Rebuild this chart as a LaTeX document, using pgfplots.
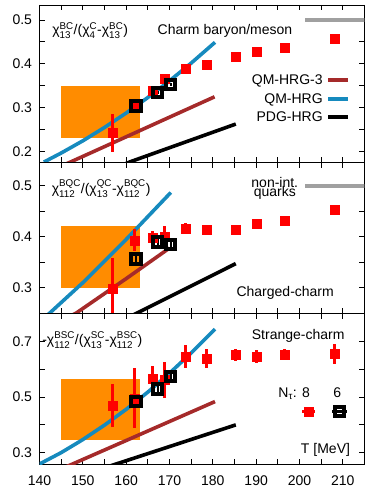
\documentclass[border=0pt]{standalone}
\usepackage{pgfplots}
\pgfplotsset{compat=1.18}
\usepackage{amsmath}
\usepackage{fontspec}
\setmainfont{Liberation Sans}
\definecolor{qmblue}{RGB}{22,138,190}
\definecolor{qmbrown}{RGB}{165,42,42}
\definecolor{band}{RGB}{255,140,0}
\definecolor{ngray}{RGB}{160,160,160}
\newcommand{\cx}[2]{χ$^{\text{#1}}_{\text{#2}}$}

\pgfplotsset{
  panel/.style={
    scale only axis, width=325pt,
    xmin=140, xmax=215,
    xtick={140,150,...,210}, minor xtick={145,155,...,215},
    major tick length=5.5pt, minor tick length=5.5pt,
    tick style={black, line width=0.8pt},
    axis line style={line width=0.8pt},
    /pgf/number format/assume math mode=true,
    yticklabel style={xshift=-4pt},
    xticklabel style={yshift=-7.5pt},
  },
  red8/.style={only marks, mark=square*, mark size=4.5pt, color=red,
    mark options={fill=red, draw=red, line width=0.2pt},
    error bars/.cd, y dir=both, y explicit,
    error bar style={line width=3pt, red}, error mark=none},
  blk6/.style={only marks, mark=square, mark size=4.65pt, color=black,
    mark options={draw=black, line width=4pt},
    error bars/.cd, y dir=both, y explicit,
    error bar style={line width=2pt, black}, error mark=none},
  theory/.style={no marks, line width=3.6pt},
}

\begin{document}
\begin{tikzpicture}[font=\fontsize{14}{16}\selectfont]
\useasboundingbox (0,0) rectangle (365pt,488pt);

% ---------------- Panel 1 ----------------
\begin{axis}[panel, at={(39.5pt,325.3pt)}, anchor=south west, height=157.7pt,
  ymin=0.175, ymax=0.534,
  ytick={0.2,0.3,0.4,0.5}, yticklabels={0.2,0.3,0.4,0.5},
  minor ytick={0.25,0.35,0.45}, xticklabels={}]
\addplot[fill=band, draw=none] coordinates {(145,0.2305) (163.3,0.2305) (163.3,0.35) (145,0.35)} -- cycle;
\addplot[theory, ngray] coordinates {(201.3,0.5) (216,0.5)};
\addplot[theory, qmbrown] coordinates {(145.0,0.167) (146.8,0.175) (160,0.2339) (170,0.2786) (180.4,0.325)};
\addplot[theory, qmblue] coordinates {(141,0.1764) (145,0.197) (150,0.2248) (155,0.2552) (160,0.288) (165,0.3234) (170,0.3613) (175,0.4017) (180.5,0.449)};
\addplot[theory, black] coordinates {(159.5,0.171) (160.9,0.177) (185.3,0.263)};
% legend samples
\addplot[theory, qmbrown] coordinates {(206.6,0.3633) (211.2,0.3633)};
\addplot[theory, qmblue] coordinates {(206.6,0.320) (211.2,0.320)};
\addplot[theory, black] coordinates {(206.6,0.2784) (211.2,0.2784)};
\node[anchor=base east, inner sep=0pt] at (axis cs:205.4,0.3535) {QM-HRG-3};
\node[anchor=base east, inner sep=0pt] at (axis cs:205.4,0.3103) {QM-HRG};
\node[anchor=base east, inner sep=0pt] at (axis cs:205.4,0.2683) {PDG-HRG};
\addplot[red8] coordinates {
 (156.9,0.243) +- (0,0.044)
 (162.0,0.308) +- (0,0.008)
 (166.1,0.340) +- (0,0.006)
 (168.9,0.367) +- (0,0.006)
 (173.8,0.390) +- (0,0.005)
 (178.6,0.3975) +- (0,0.004)
 (185.3,0.4165) +- (0,0.004)
 (190.1,0.428) +- (0,0.004)
 (196.5,0.437) +- (0,0.004)
 (208.0,0.458) +- (0,0.004)
};
\addplot[blk6] coordinates {
 (162.3,0.304) +- (0,0.004)
 (167.3,0.335) +- (0,0.004)
 (170.3,0.3535) +- (0,0.004)
};
\node[anchor=base west, inner sep=0pt] at (axis cs:142.9,0.4658) {\cx{BC}{13}/(\cx{C}{4}-\cx{BC}{13})};
\node[anchor=base, inner sep=0pt] at (axis cs:182.8,0.4674) {Charm baryon/meson};
\end{axis}

% ---------------- Panel 2 ----------------
\begin{axis}[panel, at={(39.5pt,174.7pt)}, anchor=south west, height=150.6pt,
  ymin=0.25, ymax=0.5455,
  ytick={0.3,0.4,0.5}, yticklabels={0.3,0.4,0.5},
  minor ytick={0.35,0.45}, xticklabels={}]
\addplot[fill=band, draw=none] coordinates {(145,0.3) (163.3,0.3) (163.3,0.421) (145,0.421)} -- cycle;
\addplot[theory, ngray] coordinates {(201.3,0.5) (216,0.5)};
\addplot[theory, qmbrown] coordinates {(146.5,0.242) (148.4,0.25) (160,0.318) (170,0.378)};
\addplot[theory, qmblue] coordinates {(141,0.24) (142.3,0.25) (150,0.31) (160,0.395) (170.3,0.487)};
\addplot[theory, black] coordinates {(160.5,0.242) (162.4,0.25) (185.3,0.3475)};
\addplot[red8] coordinates {
 (156.9,0.298) +- (0,0.06)
 (162.0,0.3936) +- (0,0.022)
 (166.1,0.399) +- (0,0.013)
 (168.9,0.400) +- (0,0.022)
 (173.8,0.4164) +- (0,0.011)
 (178.6,0.4145) +- (0,0.005)
 (185.3,0.415) +- (0,0.005)
 (190.1,0.426) +- (0,0.005)
 (196.5,0.4325) +- (0,0.005)
 (208.0,0.4535) +- (0,0.005)
};
\addplot[blk6] coordinates {
 (162.3,0.3566) +- (0,0.008)
 (167.3,0.390) +- (0,0.008)
 (170.3,0.385) +- (0,0.008)
};
\node[anchor=base west, inner sep=0pt] at (axis cs:142.8,0.4855) {\cx{BQC}{112}/(\cx{QC}{13}-\cx{BQC}{112})};
\node[anchor=base, inner sep=0pt] at (axis cs:194.3,0.497) {non-int.};
\node[anchor=base, inner sep=0pt] at (axis cs:194.3,0.479) {quarks};
\node[anchor=base, inner sep=0pt] at (axis cs:196.7,0.2836) {Charged-charm};
\end{axis}

% ---------------- Panel 3 ----------------
\begin{axis}[panel, at={(39.5pt,23.7pt)}, anchor=south west, height=151pt,
  ymin=0.258, ymax=0.802,
  ytick={0.3,0.5,0.7}, yticklabels={0.3,0.5,0.7},
  minor ytick={0.4,0.6}]
\addplot[fill=band, draw=none] coordinates {(145,0.344) (163.3,0.344) (163.3,0.566) (145,0.566)} -- cycle;
\addplot[theory, qmbrown] coordinates {(145,0.241) (146.6,0.252) (180.5,0.484)};
\addplot[theory, qmblue] coordinates {(139,0.251) (140,0.259) (145,0.300) (150,0.347) (155,0.399) (160,0.456) (165,0.518) (170,0.586) (175,0.659) (180.5,0.745)};
\addplot[theory, black] coordinates {(154,0.240) (156.3,0.252) (185.3,0.40)};
\addplot[red8] coordinates {
 (156.9,0.470) +- (0,0.076)
 (162.0,0.496) +- (0,0.108)
 (166.1,0.565) +- (0,0.046)
 (168.9,0.562) +- (0,0.065)
 (173.8,0.646) +- (0,0.042)
 (178.6,0.638) +- (0,0.034)
 (185.3,0.652) +- (0,0.023)
 (190.1,0.646) +- (0,0.023)
 (196.5,0.652) +- (0,0.020)
 (208.0,0.656) +- (0,0.036)
};
\addplot[blk6] coordinates {
 (162.3,0.484) +- (0,0.01)
 (167.3,0.529) +- (0,0.01)
 (170.3,0.574) +- (0,0.01)
};
% legend samples
\addplot[only marks, mark=square*, mark size=4.5pt, color=red, mark options={fill=red},
  error bars/.cd, x dir=both, x explicit, error bar style={line width=3pt, red}, error mark=none]
  coordinates {(202.1,0.448) +- (1.5,0)};
\addplot[only marks, mark=square, mark size=4.65pt, color=black, mark options={line width=4pt},
  error bars/.cd, x dir=both, x explicit, error bar style={line width=3pt, black}, error mark=none]
  coordinates {(209.2,0.448) +- (1.75,0)};
\node[anchor=base west, inner sep=0pt] at (axis cs:140.6,0.691) {-\cx{BSC}{112}/(\cx{SC}{13}-\cx{BSC}{112})};
\node[anchor=base, inner sep=0pt] at (axis cs:199.7,0.709) {Strange-charm};
\node[anchor=base west, inner sep=0pt] at (axis cs:195.1,0.5) {N$_{\text{τ}}$: 8};
\node[anchor=base, inner sep=0pt] at (axis cs:208.7,0.5) {6};
\node[anchor=base east, inner sep=0pt] at (axis cs:211.7,0.298) {T [MeV]};
\end{axis}
\end{tikzpicture}
\end{document}
